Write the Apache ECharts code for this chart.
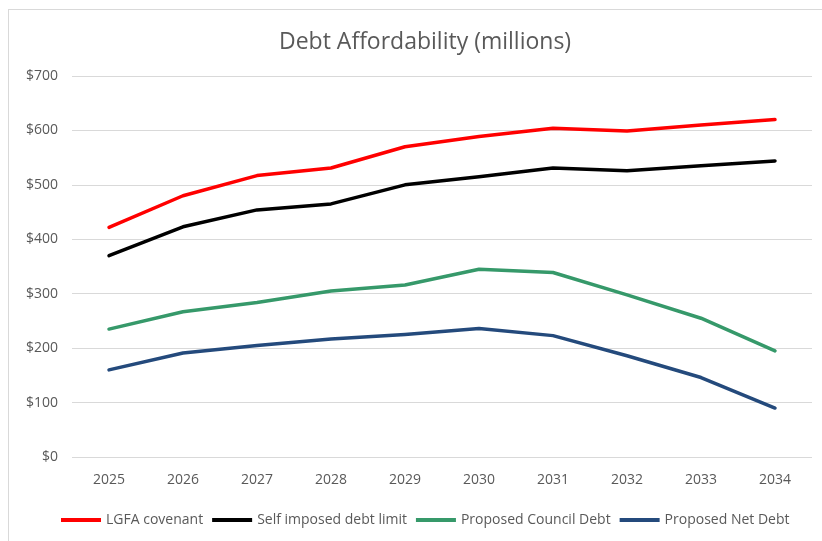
<!DOCTYPE html>
<html>
<head>
<meta charset="utf-8">
<script src="https://cdn.jsdelivr.net/npm/echarts@6/dist/echarts.min.js"></script>
<style>
  body{margin:0;background:#fff;}
  #main{width:822px;height:541px;position:absolute;left:0;top:0;}
  #frame{position:absolute;left:8px;top:9px;width:830px;height:540px;border:1px solid #d9d9d9;pointer-events:none;}
</style>
</head>
<body>
<div id="main"></div>
<div id="frame"></div>
<script>
var years = ['2025','2026','2027','2028','2029','2030','2031','2032','2033','2034'];
var lgfa = [422, 480, 517, 531, 570, 589, 604, 599, 610, 620];
var selfLimit = [370, 423, 454, 465, 500, 515, 531, 526, 535, 544];
var councilDebt = [235, 267, 284, 305, 316, 345, 339, 298, 255, 195];
var netDebt = [160, 191, 205, 217, 225, 236, 223, 186, 146, 90];
var seriesNames = ['LGFA covenant','Self imposed debt limit','Proposed Council Debt','Proposed Net Debt'];

var myChart = echarts.init(document.getElementById('main'));
var colorList = ['#ff0000','#000000','#36996a','#244a7c'];
var font = '"Open Sans", "Liberation Sans", sans-serif';

function mkLine(name, data, i){
  return {
    name: name,
    type: 'line',
    data: data,
    symbol: 'none',
    lineStyle: { width: 3.5, color: colorList[i], cap: 'round', join: 'round' },
    itemStyle: { color: colorList[i] }
  };
}

var option = {
  animation: false,
  title: {
    text: 'Debt Affordability (millions)',
    left: 274,
    top: 26,
    textStyle: { color: '#595959', fontWeight: 'normal', fontSize: 23, fontFamily: font }
  },
  legend: {
    bottom: 9,
    left: 56,
    icon: 'rect',
    itemWidth: 40,
    itemHeight: 4,
    itemGap: 9,
    textStyle: { color: '#595959', fontSize: 14, fontFamily: font },
    data: seriesNames
  },
  grid: { left: 72, right: 10, top: 76, bottom: 84 },
  xAxis: {
    type: 'category',
    data: years,
    boundaryGap: true,
    axisLine: { show: false },
    axisTick: { show: false },
    axisLabel: { color: '#595959', fontSize: 14, margin: 16, fontFamily: font }
  },
  yAxis: {
    type: 'value',
    min: 0,
    max: 700,
    interval: 100,
    axisLine: { show: false },
    axisTick: { show: false },
    axisLabel: { color: '#595959', fontSize: 14, margin: 14, fontFamily: font, formatter: '${value}' },
    splitLine: { lineStyle: { color: '#d9d9d9', width: 1 } }
  },
  series: [
    mkLine(seriesNames[0], lgfa, 0),
    mkLine(seriesNames[1], selfLimit, 1),
    mkLine(seriesNames[2], councilDebt, 2),
    mkLine(seriesNames[3], netDebt, 3)
  ]
};
myChart.setOption(option);
</script>
</body>
</html>
